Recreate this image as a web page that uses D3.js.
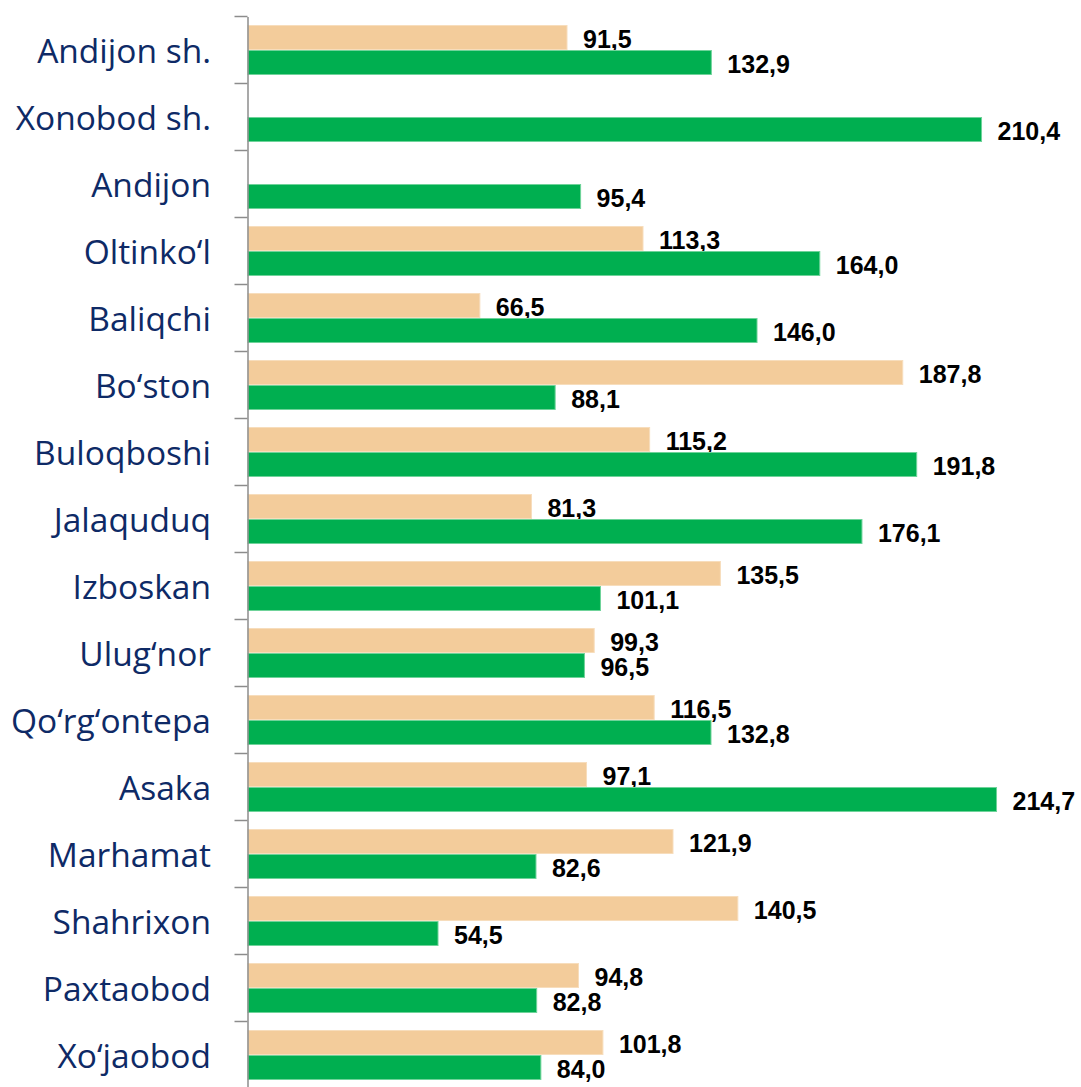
<!DOCTYPE html>
<html><head><meta charset="utf-8">
<script src="https://cdn.jsdelivr.net/npm/d3@7"></script>
<style>body{margin:0;background:#fff;} svg{display:block;}</style>
</head><body>
<svg id="c" width="1081" height="1087"></svg>
<script>
const categories = ["Andijon sh.","Xonobod sh.","Andijon","Oltinko‘l","Baliqchi","Bo‘ston","Buloqboshi","Jalaquduq","Izboskan","Ulug‘nor","Qo‘rg‘ontepa","Asaka","Marhamat","Shahrixon","Paxtaobod","Xo‘jaobod"];
const seriesA = [91.5,null,null,113.3,66.5,187.8,115.2,81.3,135.5,99.3,116.5,97.1,121.9,140.5,94.8,101.8];
const seriesB = [132.9,210.4,95.4,164.0,146.0,88.1,191.8,176.1,101.1,96.5,132.8,214.7,82.6,54.5,82.8,84.0];

const svg = d3.select("#c");
const x = d3.scaleLinear().domain([0,220]).range([248,1015]);
const y = d3.scaleBand().domain(categories).range([16.5,1088.5]).paddingInner(0).paddingOuter(0);
const sub = d3.scaleBand().domain(["A","B"]).range([0,y.bandwidth()]).paddingInner(0).paddingOuter(0.34);
const fmt = v => d3.format(".1f")(v).replace(".", ",");
const series = [{key:"A",vals:seriesA,fill:"#F3CC9B",stroke:"#F7DDBC"},{key:"B",vals:seriesB,fill:"#00AF50",stroke:"#6FD39A"}];

series.forEach(s => {
  const data = categories.map((c,i)=>({c,v:s.vals[i]})).filter(d=>d.v!=null);
  svg.append("g").selectAll("rect").data(data).join("rect")
    .attr("x", x(0)).attr("y", d=>y(d.c)+sub(s.key)+0.5)
    .attr("width", d=>x(d.v)-x(0)).attr("height", sub.bandwidth()-1)
    .attr("fill", s.fill).attr("stroke", s.stroke).attr("stroke-width",1);
  svg.append("g").selectAll("text").data(data).join("text")
    .attr("x", d=>x(d.v)+16).attr("y", d=>y(d.c)+sub(s.key)+sub.bandwidth()-2.5)
    .attr("font-family","Liberation Sans, Arial, sans-serif").attr("font-weight","bold")
    .attr("font-size",25).attr("fill","#000").text(d=>fmt(d.v));
});

const axis = d3.axisLeft(y).tickSize(13).tickSizeOuter(0).tickFormat("");
const ag = svg.append("g").attr("transform",`translate(${x(0)-0.5},0)`).call(axis);
ag.select(".domain").attr("stroke","#8c8c8c").attr("stroke-width",1.5);
ag.selectAll(".tick").remove();
const bounds = categories.map(c=>y(c));
ag.selectAll("line.b").data(bounds).join("line").attr("class","b")
  .attr("x1",-13).attr("x2",0).attr("y1",d=>d).attr("y2",d=>d)
  .attr("stroke","#8c8c8c").attr("stroke-width",1.5);

svg.append("g").selectAll("text").data(categories).join("text")
  .attr("x",211).attr("y",d=>y(d)+y.bandwidth()/2+12.5)
  .attr("text-anchor","end").attr("font-family","Open Sans, sans-serif")
  .attr("font-size",33.5).attr("fill","#0E2A66").text(d=>d);
</script>
</body></html>
